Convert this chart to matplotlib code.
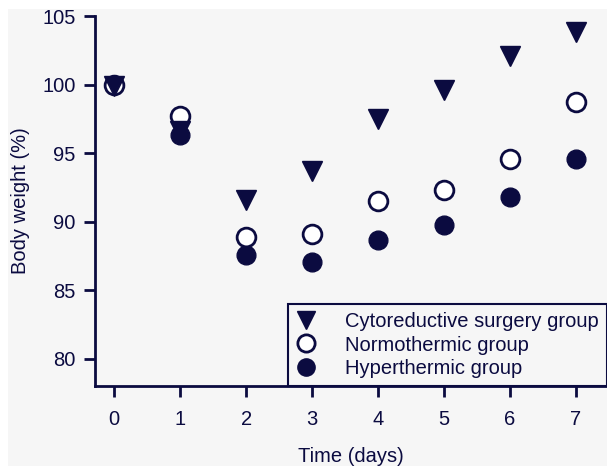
import matplotlib
matplotlib.use("Agg")
import matplotlib.pyplot as plt
from matplotlib.patches import Rectangle

days = [0, 1, 2, 3, 4, 5, 6, 7]
cytoreductive = [99.9, 96.6, 91.6, 93.7, 97.45, 99.6, 102.1, 103.8]
normothermic = [100.0, 97.67, 88.9, 89.1, 91.5, 92.3, 94.6, 98.76]
hyperthermic = [100.0, 96.3, 87.55, 87.05, 88.65, 89.75, 91.8, 94.6]

ink = "#0b0b40"
bg = "#f6f6f6"
plt.rcParams['font.family'] = ['Liberation Sans', 'DejaVu Sans']

W, H = 607, 467
fig = plt.figure(figsize=(W / 100, H / 100), dpi=100)
fig.patch.set_facecolor("white")
fig.patches.append(Rectangle((8 / W, 1 / H), 1 - 8 / W, (458 - 1) / H,
                             transform=fig.transFigure, facecolor=bg,
                             edgecolor="none", zorder=-10))

ax = fig.add_axes([95 / W, (H - 386) / H, 1 - 95 / W, (386 - 16) / H])
ax.patch.set_visible(False)

l_cyto, = ax.plot(days, cytoreductive, linestyle="none", marker="v", markersize=14,
                  color=ink, label="Cytoreductive surgery group", zorder=5)
l_norm, = ax.plot(days, normothermic, linestyle="none", marker="o", markersize=13.5,
                  markerfacecolor="white", markeredgecolor=ink, markeredgewidth=2,
                  label="Normothermic group", zorder=4)
l_hyp, = ax.plot(days, hyperthermic, linestyle="none", marker="o", markersize=13.5,
                 color=ink, label="Hyperthermic group", zorder=3)

ax.set_xlim(-0.29, 7.47)
ax.set_ylim(78, 105)
ax.set_xticks(days)
ax.set_yticks([80, 85, 90, 95, 100, 105])

for s in ["top", "right"]:
    ax.spines[s].set_visible(False)
for s in ["left", "bottom"]:
    ax.spines[s].set_color(ink)
    ax.spines[s].set_linewidth(2)
ax.tick_params(axis="both", direction="out", length=8, width=2, color=ink,
               labelcolor=ink, labelsize=14.5)
ax.tick_params(axis="x", pad=9)
ax.tick_params(axis="y", pad=6)

ax.set_xlabel("Time (days)", fontsize=14.5, color=ink, labelpad=13)
ax.set_ylabel("Body weight (%)", fontsize=14.5, color=ink, labelpad=9)

leg = ax.legend(handles=[l_cyto, l_norm, l_hyp], loc="lower right",
                bbox_to_anchor=(1.0, 0.0), frameon=True,
                fancybox=False, fontsize=14.5, handletextpad=1.45,
                borderpad=0.4, labelspacing=0.22, handlelength=1.0,
                markerscale=0.92, borderaxespad=0.0)
leg.get_frame().set_edgecolor(ink)
leg.get_frame().set_linewidth(1.5)
leg.get_frame().set_facecolor(bg)
leg.get_frame().set_alpha(1)
for t in leg.get_texts():
    t.set_color(ink)

fig.savefig("out.png", dpi=100, facecolor=fig.get_facecolor())
